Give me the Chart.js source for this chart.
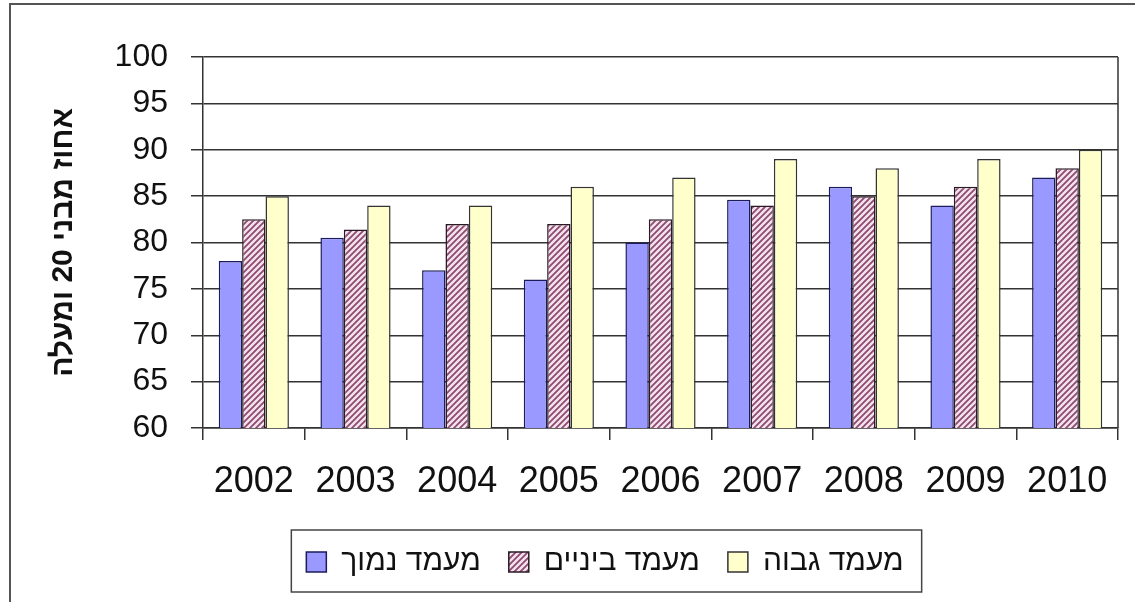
<!DOCTYPE html>
<html>
<head>
<meta charset="utf-8">
<script src="https://cdn.jsdelivr.net/npm/chart.js@4.4.1/dist/chart.umd.min.js"></script>
<style>
  body { margin: 0; background: #fff; }
  #chart { display: block; }
</style>
</head>
<body>
<canvas id="chart" width="1135" height="602" dir="rtl"></canvas>
<script>
const years = ['2002', '2003', '2004', '2005', '2006', '2007', '2008', '2009', '2010'];
const seriesNames = ['מעמד נמוך', 'מעמד ביניים', 'מעמד גבוה'];
const lowClass = [78, 80.5, 77, 76, 80, 84.6, 86, 84, 87];
const middleClass = [82.5, 81.4, 82, 82, 82.5, 84, 85, 86, 88];
const highClass = [85, 84, 84, 86, 87, 89, 88, 89, 90];
const yTitle = 'אחוז מבני 20 ומעלה';

const gridColor = '#333333';

function makeHatch() {
  const size = 6;
  const c = document.createElement('canvas');
  c.width = size;
  c.height = size;
  const g = c.getContext('2d');
  g.fillStyle = '#f3e3ee';
  g.fillRect(0, 0, size, size);
  g.strokeStyle = '#8e4a6e';
  g.lineWidth = 1.8;
  g.beginPath();
  g.moveTo(0, size);
  g.lineTo(size, 0);
  g.moveTo(-1, 1);
  g.lineTo(1, -1);
  g.moveTo(size - 1, size + 1);
  g.lineTo(size + 1, size - 1);
  g.stroke();
  return g.createPattern(c, 'repeat');
}

// frame lines, right edge of plot, box round the legend
const framePlugin = {
  id: 'frame',
  afterDraw(chart) {
    const ctx = chart.ctx;
    const area = chart.chartArea;
    ctx.save();
    ctx.strokeStyle = '#555';
    ctx.lineWidth = 2;
    ctx.beginPath();
    ctx.moveTo(10, chart.height);
    ctx.lineTo(10, 4);
    ctx.lineTo(chart.width, 4);
    ctx.stroke();

    ctx.strokeStyle = gridColor;
    ctx.lineWidth = 1.5;
    ctx.beginPath();
    ctx.moveTo(area.right, area.top);
    ctx.lineTo(area.right, area.bottom);
    ctx.stroke();

    const boxes = chart.legend.legendHitBoxes;
    if (boxes && boxes.length) {
      const l = Math.min(...boxes.map(b => b.left)) - 15;
      const r = Math.max(...boxes.map(b => b.left + b.width)) + 18;
      const t = Math.min(...boxes.map(b => b.top)) - 17;
      const btm = Math.max(...boxes.map(b => b.top + b.height)) + 15;
      ctx.strokeStyle = '#444';
      ctx.lineWidth = 1.5;
      ctx.strokeRect(l, t, r - l, btm - t);
    }
    ctx.restore();
  }
};

Chart.defaults.font.family = '"Liberation Sans", Arial, "DejaVu Sans", sans-serif';
Chart.defaults.color = '#111';

const ctx = document.getElementById('chart').getContext('2d');
new Chart(ctx, {
  type: 'bar',
  data: {
    labels: years,
    datasets: [
      {
        label: seriesNames[0],
        data: lowClass,
        backgroundColor: '#9999ff',
        borderColor: '#1c1c5a',
        borderWidth: 1.5,
      },
      {
        label: seriesNames[1],
        data: middleClass,
        backgroundColor: makeHatch(),
        borderColor: '#2a1a24',
        borderWidth: 1.5,
      },
      {
        label: seriesNames[2],
        data: highClass,
        backgroundColor: '#ffffcc',
        borderColor: '#333',
        borderWidth: 1.5,
      },
    ],
  },
  options: {
    responsive: false,
    animation: false,
    layout: {
      padding: { left: 92, right: 17, top: 57, bottom: 15 },
    },
    datasets: {
      bar: {
        categoryPercentage: 0.69,
        barPercentage: 1.0,
      },
    },
    scales: {
      x: {
        grid: {
          drawOnChartArea: false,
          drawTicks: true,
          tickLength: 12,
          color: gridColor,
          lineWidth: 1.5,
        },
        border: { display: true, color: gridColor, width: 1.5 },
        ticks: {
          padding: 20,
          color: '#111',
          font: { size: 36 },
          maxRotation: 0,
        },
        afterFit(scale) {
          scale.height = 91;
        },
      },
      y: {
        min: 60,
        max: 100,
        ticks: {
          stepSize: 5,
          padding: 23,
          color: '#111',
          font: { size: 32 },
        },
        grid: {
          color: gridColor,
          lineWidth: 1.5,
          tickLength: 12,
        },
        border: { display: true, color: gridColor, width: 1.5 },
        title: {
          display: true,
          text: yTitle,
          color: '#111',
          font: { size: 30, weight: 'bold' },
          padding: { top: -46, bottom: 0 },
        },
        afterFit(scale) {
          scale.width = 111;
        },
      },
    },
    plugins: {
      legend: {
        position: 'bottom',
        labels: {
          boxWidth: 20,
          boxHeight: 20,
          padding: 28,
          color: '#111',
          font: { size: 30 },
        },
      },
      tooltip: { enabled: false },
    },
  },
  plugins: [framePlugin],
});
</script>
</body>
</html>
